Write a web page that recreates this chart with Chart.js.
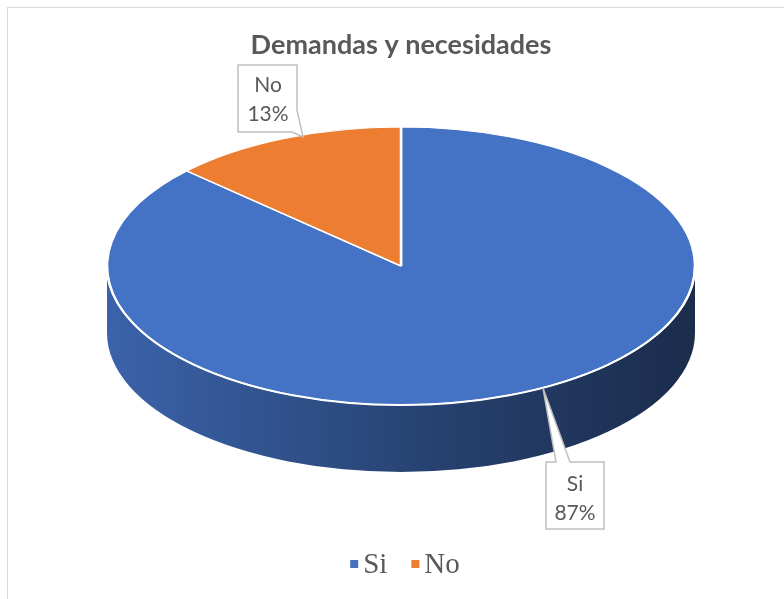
<!DOCTYPE html>
<html>
<head>
<meta charset="utf-8">
<script src="https://cdn.jsdelivr.net/npm/chart.js@4.4.1/dist/chart.umd.min.js"></script>
<style>
  body { margin: 0; background: #fff; }
  #frame { position: absolute; left: 7px; top: 7px; width: 900px; height: 700px; border: 1px solid #d9d9d9; }
  #myChart { position: absolute; left: 0; top: 0; }
</style>
</head>
<body>
<div id="frame"></div>
<canvas id="myChart" width="784" height="599"></canvas>
<script>
const categories = ["Si", "No"];
const values = [87, 13];
const colors = ["#4472C4", "#ED7D31"];

// where the top face of the 3D pie sits on screen
const CX = 401, CY = 266, RX = 294, RY = 139, DEPTH = 67;
const TEXT = "#595959";

function shade(hex, f) {
  const n = parseInt(hex.slice(1), 16);
  const r = Math.round(((n >> 16) & 255) * f);
  const g = Math.round(((n >> 8) & 255) * f);
  const b = Math.round((n & 255) * f);
  return "rgb(" + r + "," + g + "," + b + ")";
}

function callout(ctx, pts, lines, tx, ty) {
  ctx.save();
  ctx.beginPath();
  pts.forEach((p, i) => (i ? ctx.lineTo(p[0], p[1]) : ctx.moveTo(p[0], p[1])));
  ctx.closePath();
  ctx.fillStyle = "#fff";
  ctx.fill();
  ctx.strokeStyle = "#bfbfbf";
  ctx.lineWidth = 1.5;
  ctx.stroke();
  ctx.fillStyle = TEXT;
  ctx.font = "21px Lato";
  ctx.textAlign = "center";
  ctx.textBaseline = "middle";
  lines.forEach((t, i) => ctx.fillText(t, tx, ty + i * 29));
  ctx.restore();
}

const pie3d = {
  id: "pie3d",
  beforeDatasetsDraw(chart) {
    const ctx = chart.ctx;
    const arcs = chart.getDatasetMeta(0).data;
    // side walls, only the front half is visible
    arcs.forEach((arc, i) => {
      for (let k = -1; k <= 1; k++) {
        const a = Math.max(arc.startAngle + 2 * Math.PI * k, 0);
        const b = Math.min(arc.endAngle + 2 * Math.PI * k, Math.PI);
        if (a >= b) continue;
        const grad = ctx.createLinearGradient(CX - RX, 0, CX + RX, 0);
        grad.addColorStop(0, shade(colors[i], 0.87));
        grad.addColorStop(0.35, shade(colors[i], 0.68));
        grad.addColorStop(0.6, shade(colors[i], 0.55));
        grad.addColorStop(1, shade(colors[i], 0.39));
        ctx.beginPath();
        ctx.ellipse(CX, CY, RX, RY, 0, a, b);
        ctx.ellipse(CX, CY + DEPTH, RX, RY, 0, b, a, true);
        ctx.closePath();
        ctx.fillStyle = grad;
        ctx.fill();
      }
    });
    const a0 = arcs[0];
    ctx.save();
    ctx.translate(CX, CY);
    ctx.scale(RX / a0.outerRadius, RY / a0.outerRadius);
    ctx.translate(-a0.x, -a0.y);
  },
  afterDatasetsDraw(chart) {
    const ctx = chart.ctx;
    ctx.restore();
    ctx.save();
    ctx.beginPath();
    ctx.ellipse(CX, CY, RX, RY, 0, 0, Math.PI);
    ctx.strokeStyle = "#fff";
    ctx.lineWidth = 2;
    ctx.stroke();
    ctx.restore();

    const total = values.reduce((s, v) => s + v, 0);
    const pct = values.map((v) => Math.round((v / total) * 100) + "%");
    callout(ctx, [[238, 65], [297, 65], [297, 110], [303, 137], [292, 132], [238, 132]],
      [categories[1], pct[1]], 268, 85);
    callout(ctx, [[546, 462], [556, 462], [543, 388], [570, 462], [604, 462], [604, 529], [546, 529]],
      [categories[0], pct[0]], 575, 484);

    // legend
    ctx.save();
    ctx.font = "29px 'Liberation Serif'";
    ctx.textBaseline = "alphabetic";
    let w = 0;
    categories.forEach((c, i) => { w += 8 + 5 + ctx.measureText(c).width + (i ? 0 : 24); });
    let x = 405 - w / 2;
    categories.forEach((c, i) => {
      ctx.fillStyle = colors[i];
      ctx.fillRect(x, 560, 8, 8);
      x += 13;
      ctx.fillStyle = TEXT;
      ctx.fillText(c, x, 573);
      x += ctx.measureText(c).width + 24;
    });
    ctx.restore();
  }
};

new Chart(document.getElementById("myChart"), {
  type: "pie",
  data: {
    labels: categories,
    datasets: [
      {
        data: values,
        backgroundColor: colors,
        borderColor: "#fff",
        borderWidth: 2,
      },
    ],
  },
  options: {
    responsive: false,
    animation: false,
    layout: { padding: { left: 18, bottom: 60 } },
    plugins: {
      legend: { display: false },
      tooltip: { enabled: false },
      title: {
        display: true,
        text: "Demandas y necesidades",
        color: TEXT,
        font: { family: "Lato", size: 27, weight: "bold" },
        padding: { top: 29, bottom: 10 },
      },
    },
  },
  plugins: [pie3d],
});
</script>
</body>
</html>
